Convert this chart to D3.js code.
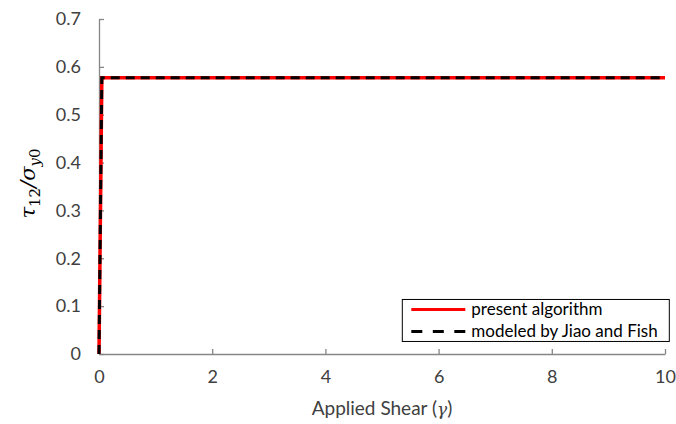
<!DOCTYPE html>
<html>
<head>
<meta charset="utf-8">
<script src="https://cdn.jsdelivr.net/npm/d3@7"></script>
<style>
  body { margin: 0; background: #fff; }
  svg text { font-family: Lato, "Open Sans", sans-serif; }
</style>
</head>
<body>
<svg id="chart"></svg>
<script>
// data
var presentStrain = [0, 0.05, 10];
var presentStress = [0, 0.577, 0.577];
var jiaoStrain = [0, 0.05, 10];
var jiaoStress = [0, 0.577, 0.577];
var xTicks = [0, 2, 4, 6, 8, 10];
var yTicks = [0, 0.1, 0.2, 0.3, 0.4, 0.5, 0.6, 0.7];
var legendNames = ["present algorithm", "modeled by Jiao and Fish"];

var margin = { top: 19, right: 11, bottom: 70, left: 99 },
  width = 676 - margin.left - margin.right,
  height = 424 - margin.top - margin.bottom;

var svg = d3.select("#chart")
  .attr("width", 676)
  .attr("height", 424)
  .append("g")
  .attr("transform", "translate(" + margin.left + "," + margin.top + ")");

var x = d3.scaleLinear().domain([0, 10]).range([0, width]);
var y = d3.scaleLinear().domain([0, 0.7]).range([height, 0]);

// x axis, ticks pointing inward
var xAxis = svg.append("g")
  .attr("transform", "translate(0," + height + ")")
  .call(d3.axisBottom(x).tickValues(xTicks).tickSizeInner(-5).tickSizeOuter(0).tickPadding(16)
    .tickFormat(d3.format("d")));
xAxis.select(".domain").attr("stroke", "#868686").attr("stroke-width", 1.3);
xAxis.selectAll(".tick line").attr("stroke", "#868686").attr("stroke-width", 1.3);
xAxis.selectAll("text").style("font-size", "18px").attr("fill", "#404040");

var yAxis = svg.append("g")
  .call(d3.axisLeft(y).tickValues(yTicks).tickSizeInner(-5).tickSizeOuter(0).tickPadding(18)
    .tickFormat(function (d) { return d === 0 ? "0" : d3.format(".1f")(d); }));
yAxis.select(".domain").attr("stroke", "#868686").attr("stroke-width", 1.3);
yAxis.selectAll(".tick line").attr("stroke", "#868686").attr("stroke-width", 1.3);
yAxis.selectAll("text").style("font-size", "18px").attr("fill", "#404040");

// lines
var line = d3.line()
  .x(function (d) { return x(d[0]); })
  .y(function (d) { return y(d[1]); });

svg.append("path")
  .datum(d3.zip(presentStrain, presentStress))
  .attr("fill", "none")
  .attr("stroke", "#ff0000")
  .attr("stroke-width", 3.5)
  .attr("d", line);

svg.append("path")
  .datum(d3.zip(jiaoStrain, jiaoStress))
  .attr("fill", "none")
  .attr("stroke", "#000")
  .attr("stroke-width", 3)
  .attr("stroke-dasharray", "9,6")
  .attr("d", line);

// axis titles
var xLab = svg.append("text")
  .attr("x", width / 2)
  .attr("y", height + 61)
  .style("text-anchor", "middle")
  .style("font-size", "19px")
  .attr("fill", "#404040");
xLab.append("tspan").text("Applied Shear (");
xLab.append("tspan").style("font-style", "italic").style("font-family", "DejaVu Serif").style("font-size", "17px").text("γ");
xLab.append("tspan").text(")");

var yLab = svg.append("text")
  .attr("transform", "translate(" + (-64) + "," + (height / 2 - 3) + ") rotate(-90)")
  .style("text-anchor", "middle")
  .style("font-family", "DejaVu Serif")
  .style("font-style", "italic")
  .style("font-size", "21px")
  .attr("fill", "#000");
yLab.append("tspan").text("τ");
yLab.append("tspan").attr("dy", 5).style("font-size", "15px").style("font-style", "normal").text("12");
yLab.append("tspan").attr("dy", -5).text("/σ");
yLab.append("tspan").attr("dy", 5).style("font-size", "15px").text("y");
yLab.append("tspan").style("font-size", "15px").style("font-style", "normal").text("0");

// legend
var lg = svg.append("g").attr("transform", "translate(" + (x(5.35) + 0.5) + "," + (y(0.115) + 0.5) + ")");
lg.append("rect")
  .attr("width", 267).attr("height", 42)
  .attr("fill", "#fff").attr("stroke", "#000").attr("stroke-width", 1);
var items = lg.selectAll(".item").data(legendNames).enter().append("g")
  .attr("transform", function (d, i) { return "translate(0," + (10 + i * 22) + ")"; });
items.append("line")
  .attr("x1", 9).attr("x2", 63).attr("y1", 0).attr("y2", 0)
  .attr("stroke", function (d, i) { return i === 0 ? "#ff0000" : "#000"; })
  .attr("stroke-width", 3)
  .attr("stroke-dasharray", function (d, i) { return i === 0 ? null : "11,10.5"; });
items.append("text")
  .attr("x", 69).attr("y", 6)
  .style("font-size", "17px")
  .attr("fill", "#000")
  .text(function (d) { return d; });
</script>
</body>
</html>
